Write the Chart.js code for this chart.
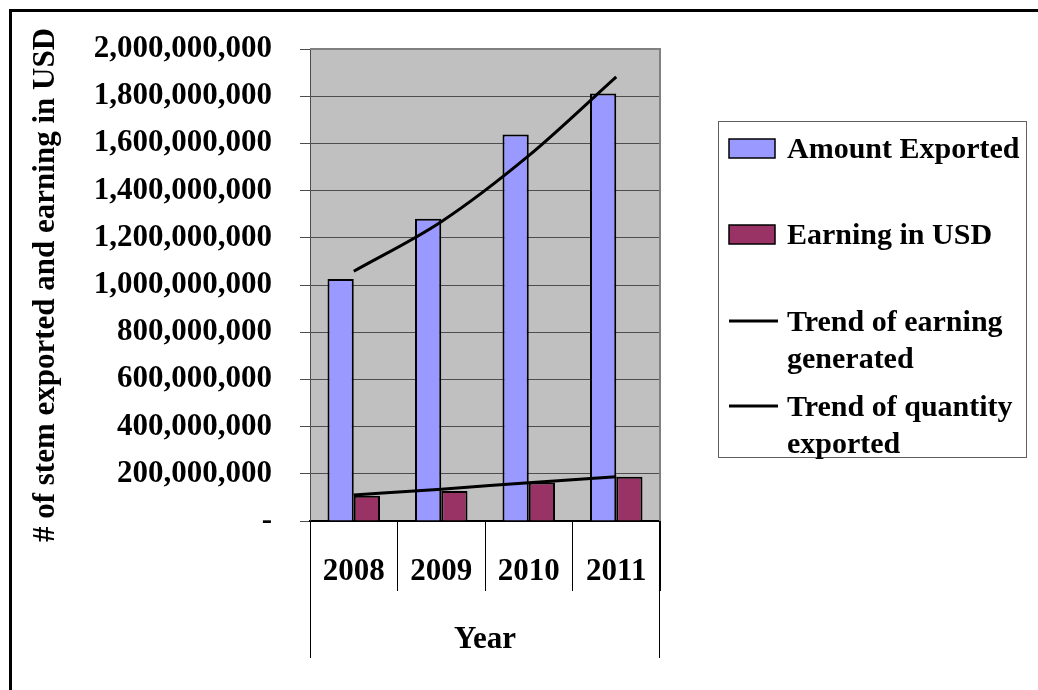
<!DOCTYPE html>
<html>
<head>
<meta charset="utf-8">
<title>Stem export and earnings</title>
<script src="https://cdn.jsdelivr.net/npm/chart.js@4.4.1/dist/chart.umd.min.js"></script>
<style>
  html, body { margin: 0; padding: 0; background: #fff; }
  #chart { display: block; }
</style>
</head>
<body>
<canvas id="chart" width="1038" height="690"></canvas>
<script>
// values per year
const years = ['2008', '2009', '2010', '2011'];
const amountExported = [1025000000, 1281000000, 1638000000, 1811000000];
const earningUsd = [107000000, 127000000, 163000000, 187000000];
const trendEarning = [110000000, 135000000, 162000000, 188000000];
const trendQuantity = [1058000000, 1268000000, 1548000000, 1882000000];

const serif = "'Liberation Serif', 'Times New Roman', serif";

function formatTick(v) {
    if (v === 0) return '-';
    return String(v).replace(/\B(?=(\d{3})+(?!\d))/g, ',');
}

// wraps legend text to fit a width
function wrapText(ctx, text, maxWidth) {
    const words = text.split(' ');
    const lines = [];
    let line = '';
    words.forEach(w => {
        const test = line ? line + ' ' + w : w;
        if (ctx.measureText(test).width > maxWidth && line) {
            lines.push(line);
            line = w;
        } else {
            line = test;
        }
    });
    if (line) lines.push(line);
    return lines;
}

// background, plot border, axis dividers, outer frame and boxed legend
const framePlugin = {
    id: 'framePlugin',
    beforeDraw(chart) {
        const { ctx, chartArea: a } = chart;
        ctx.save();
        ctx.fillStyle = '#fff';
        ctx.fillRect(0, 0, chart.width, chart.height);
        ctx.fillStyle = '#c0c0c0';
        ctx.fillRect(a.left, a.top, a.right - a.left, a.bottom - a.top);
        ctx.restore();
    },
    afterDraw(chart) {
        const { ctx, chartArea: a } = chart;
        ctx.save();

        // plot area border (top / right)
        ctx.strokeStyle = '#808080';
        ctx.lineWidth = 2;
        ctx.beginPath();
        ctx.moveTo(a.left, a.top);
        ctx.lineTo(a.right, a.top);
        ctx.lineTo(a.right, a.bottom);
        ctx.stroke();

        // outer category group lines around "Year"
        ctx.strokeStyle = '#000';
        ctx.lineWidth = 1;
        ctx.beginPath();
        ctx.moveTo(a.left + 0.5, a.bottom);
        ctx.lineTo(a.left + 0.5, 658);
        ctx.moveTo(a.right - 0.5, a.bottom);
        ctx.lineTo(a.right - 0.5, 658);
        ctx.stroke();

        // outer frame
        ctx.lineWidth = 3;
        ctx.beginPath();
        ctx.moveTo(10.5, chart.height);
        ctx.lineTo(10.5, 10.5);
        ctx.lineTo(chart.width, 10.5);
        ctx.stroke();

        // legend box
        const box = { left: 718, top: 121, right: 1026, bottom: 457 };
        ctx.strokeStyle = '#606060';
        ctx.lineWidth = 1;
        ctx.strokeRect(box.left + 0.5, box.top + 0.5, box.right - box.left, box.bottom - box.top);

        ctx.font = 'bold 30px ' + serif;
        ctx.textBaseline = 'middle';
        ctx.textAlign = 'left';
        const rowY = [148, 234, 321, 406];
        chart.data.datasets.forEach((ds, i) => {
            const y = rowY[i];
            if (ds.type === 'line') {
                ctx.strokeStyle = ds.borderColor;
                ctx.lineWidth = 3;
                ctx.beginPath();
                ctx.moveTo(729, y);
                ctx.lineTo(778, y);
                ctx.stroke();
            } else {
                ctx.fillStyle = ds.backgroundColor;
                ctx.fillRect(729, y - 9, 46, 19);
                ctx.strokeStyle = '#000';
                ctx.lineWidth = 1.5;
                ctx.strokeRect(729, y - 9, 46, 19);
            }
            ctx.fillStyle = '#000';
            wrapText(ctx, ds.label, 236).forEach((line, k) => {
                ctx.fillText(line, 787, y + 2 + k * 37);
            });
        });
        ctx.restore();
    }
};

new Chart(document.getElementById('chart'), {
    data: {
        labels: years,
        datasets: [
            {
                type: 'bar',
                label: 'Amount Exported',
                data: amountExported,
                backgroundColor: '#9999ff',
                borderColor: '#000',
                borderWidth: 2,
                categoryPercentage: 0.6,
                barPercentage: 1.0,
                order: 2
            },
            {
                type: 'bar',
                label: 'Earning in USD',
                data: earningUsd,
                backgroundColor: '#993366',
                borderColor: '#000',
                borderWidth: 2,
                categoryPercentage: 0.6,
                barPercentage: 1.0,
                order: 2
            },
            {
                type: 'line',
                label: 'Trend of earning generated',
                data: trendEarning,
                borderColor: '#000',
                borderWidth: 3,
                pointRadius: 0,
                cubicInterpolationMode: 'monotone',
                order: 1
            },
            {
                type: 'line',
                label: 'Trend of quantity exported',
                data: trendQuantity,
                borderColor: '#000',
                borderWidth: 3,
                pointRadius: 0,
                cubicInterpolationMode: 'monotone',
                order: 1
            }
        ]
    },
    options: {
        responsive: false,
        animation: false,
        layout: { padding: { left: 10, top: 49, right: 378, bottom: 0 } },
        plugins: {
            legend: { display: false },
            tooltip: { enabled: false }
        },
        scales: {
            x: {
                offset: true,
                afterFit(scale) { scale.height = 169; },
                grid: {
                    offset: true,
                    drawOnChartArea: false,
                    tickLength: 70,
                    color: '#000',
                    lineWidth: 1
                },
                border: { color: '#000', width: 2 },
                ticks: {
                    padding: -38,
                    color: '#000',
                    font: { family: serif, size: 31, weight: 'bold' }
                },
                title: {
                    display: true,
                    text: 'Year',
                    color: '#000',
                    padding: { top: 0, bottom: 31 },
                    font: { family: serif, size: 31, weight: 'bold' }
                }
            },
            y: {
                min: 0,
                max: 2000000000,
                afterFit(scale) { scale.width = 300; },
                grid: {
                    color: '#4d4d4d',
                    lineWidth: 1,
                    tickLength: 10
                },
                border: { color: '#4d4d4d', width: 1 },
                ticks: {
                    stepSize: 200000000,
                    padding: 28,
                    color: '#000',
                    callback: formatTick,
                    font: { family: serif, size: 31, weight: 'bold' }
                },
                title: {
                    display: true,
                    text: '# of stem exported and earning in USD',
                    color: '#000',
                    padding: { top: 17, bottom: 0 },
                    font: { family: serif, size: 31, weight: 'bold' }
                }
            }
        }
    },
    plugins: [framePlugin]
});
</script>
</body>
</html>
